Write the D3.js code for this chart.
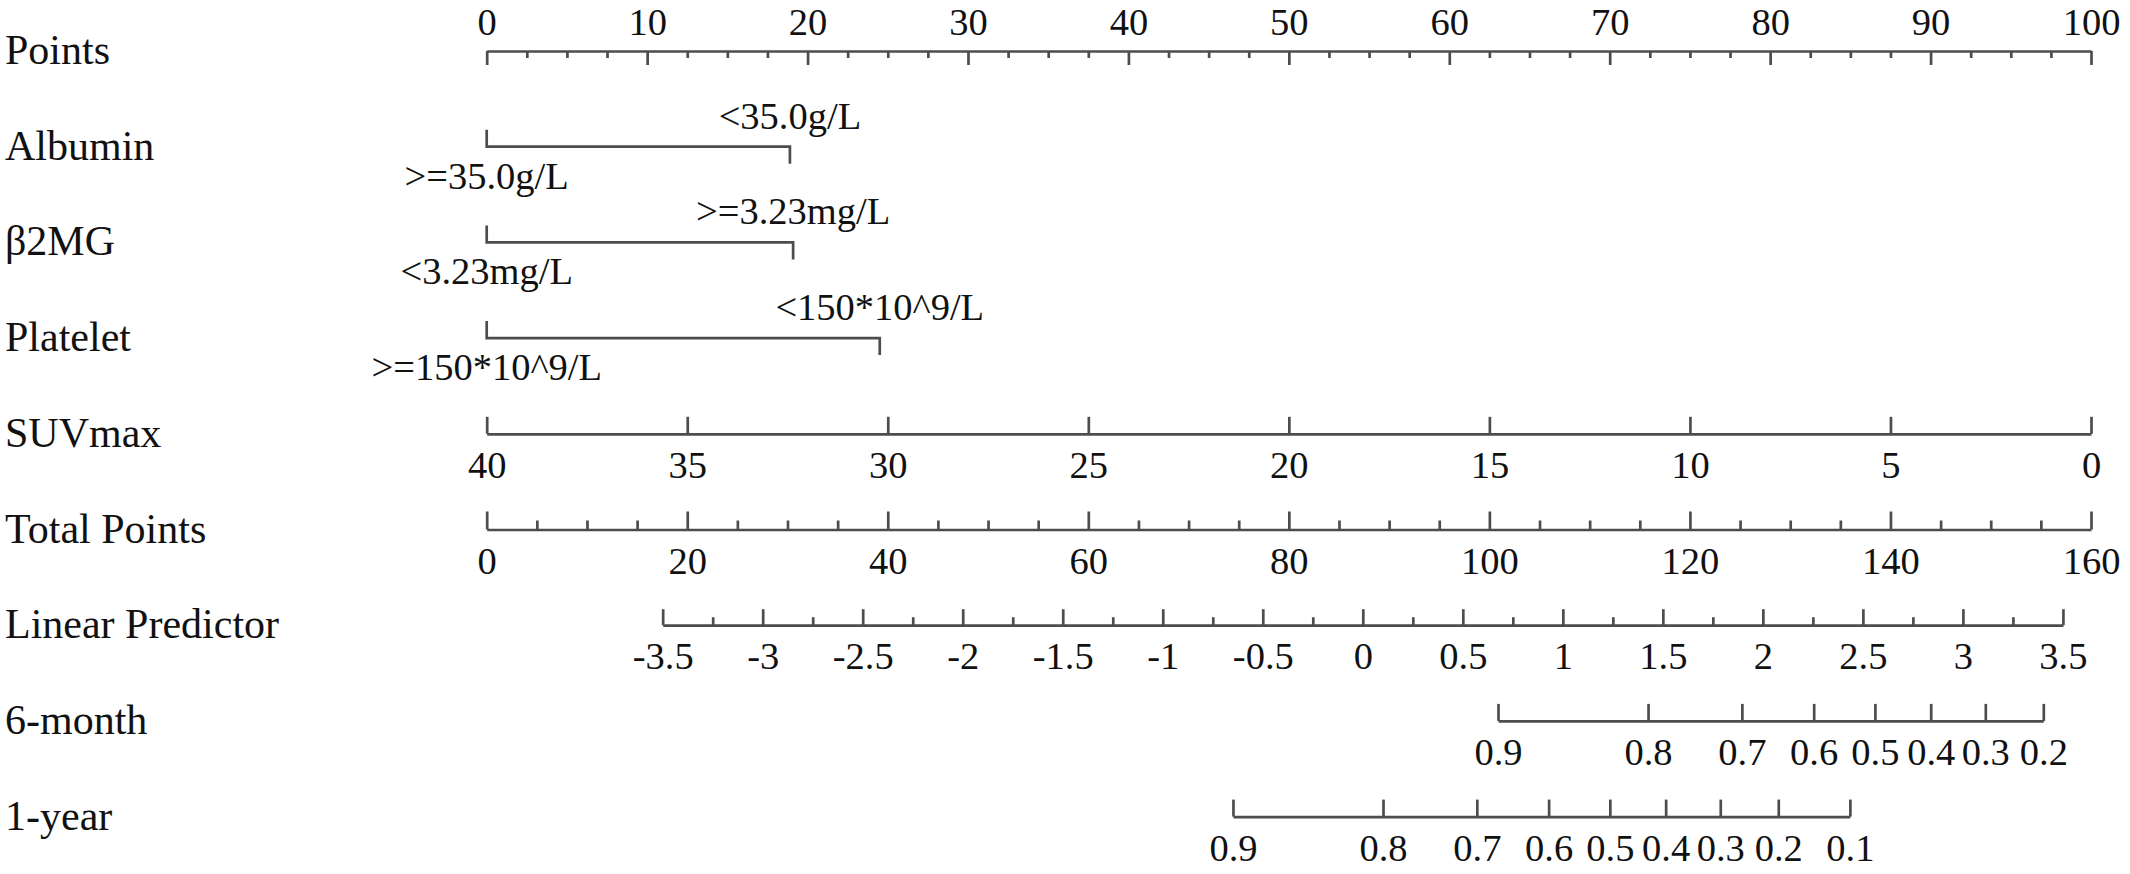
<!DOCTYPE html>
<html>
<head>
<meta charset="utf-8">
<script src="https://cdn.jsdelivr.net/npm/d3@7/dist/d3.min.js"></script>
<style>
  html, body { margin: 0; padding: 0; background: #fff; }
  svg { display: block; }
</style>
</head>
<body>
<div id="chart"></div>
<script>
// ---------------- DATA ----------------
const rowLabels = ["Points", "Albumin", "\u03b22MG", "Platelet", "SUVmax", "Total Points", "Linear Predictor", "6-month", "1-year"];

// Points scale
const pointsDomain = [0, 100];
const pointsMajor = [0, 10, 20, 30, 40, 50, 60, 70, 80, 90, 100];
const pointsMinorStep = 2.5;

// Categorical predictors: levels and their points
const albuminLevels = [">=35.0g/L", "<35.0g/L"];
const albuminPoints = [0, 18.9];
const b2mgLevels = ["<3.23mg/L", ">=3.23mg/L"];
const b2mgPoints = [0, 19.1];
const plateletLevels = [">=150*10^9/L", "<150*10^9/L"];
const plateletPoints = [0, 24.5];

// SUVmax: value 40 -> 0 points, value 0 -> 100 points
const suvTicks = [40, 35, 30, 25, 20, 15, 10, 5, 0];
const suvPointsAtEnds = [0, 100];   // points for SUVmax 40 and 0

// Total points
const totalDomain = [0, 160];
const totalMajor = [0, 20, 40, 60, 80, 100, 120, 140, 160];
const totalMinorStep = 5;

// Linear predictor
const lpTicks = [-3.5, -3, -2.5, -2, -1.5, -1, -0.5, 0, 0.5, 1, 1.5, 2, 2.5, 3, 3.5];
const lpTotalAtEnds = [17.55, 157.2];  // total points at LP -3.5 and 3.5

// Survival probabilities with their linear-predictor positions
const sixMonthProb = ["0.9", "0.8", "0.7", "0.6", "0.5", "0.4", "0.3", "0.2"];
const sixMonthLP = [0.676, 1.426, 1.895, 2.254, 2.560, 2.839, 3.112, 3.402];
const oneYearProb = ["0.9", "0.8", "0.7", "0.6", "0.5", "0.4", "0.3", "0.2", "0.1"];
const oneYearLP = [-0.649, 0.101, 0.570, 0.929, 1.235, 1.514, 1.787, 2.077, 2.435];

// ---------------- LAYOUT ----------------
const W = 2130, H = 874;
const x0 = 486.7, x1 = 2091;
const rowY0 = 51, rowStep = 95.7;
const rowY = i => rowY0 + rowStep * i;
const LINE = "#4d4d4d";
const LW = 2.7;
const FONT = "'Liberation Serif', 'Times New Roman', Times, serif";
const LABEL_FS = 42, TICK_FS = 38.5;

const svg = d3.select("#chart").append("svg")
  .attr("width", W).attr("height", H)
  .attr("viewBox", `0 0 ${W} ${H}`);

const xPts = d3.scaleLinear().domain(pointsDomain).range([x0, x1]);
const xTot = d3.scaleLinear().domain(totalDomain).range([x0, x1]);
const xSuv = d3.scaleLinear().domain([suvTicks[0], suvTicks[suvTicks.length - 1]])
  .range(suvPointsAtEnds.map(xPts));
const xLP = d3.scaleLinear().domain([lpTicks[0], lpTicks[lpTicks.length - 1]])
  .range(lpTotalAtEnds.map(xTot));

// Row labels
svg.append("g").selectAll("text").data(rowLabels).join("text")
  .attr("x", 5).attr("y", (d, i) => rowY(i) + 13)
  .attr("font-family", FONT).attr("font-size", LABEL_FS).attr("fill", "#111")
  .text(d => d);

function styleAxis(g) {
  g.attr("font-family", FONT).attr("font-size", TICK_FS);
  g.selectAll("path.domain").attr("stroke", LINE).attr("stroke-width", LW);
  g.selectAll(".tick line").attr("stroke", LINE).attr("stroke-width", LW);
  g.selectAll(".tick text").attr("fill", "#111");
}

function minorValues(domain, step, majors) {
  const out = [];
  for (let v = domain[0]; v <= domain[1] + 1e-9; v += step) {
    if (!majors.some(m => Math.abs(m - v) < 1e-9)) out.push(+v.toFixed(4));
  }
  return out;
}

// ---- Points axis (ticks down, labels above) ----
{
  const y = rowY(0);
  const g = svg.append("g").attr("transform", `translate(0,${y})`);
  g.append("g").call(d3.axisBottom(xPts).tickValues(pointsMajor).tickSize(14).tickSizeOuter(0).tickFormat(""))
    .call(styleAxis);
  g.append("g").call(d3.axisBottom(xPts).tickValues(minorValues(pointsDomain, pointsMinorStep, pointsMajor)).tickSize(7).tickFormat(""))
    .call(styleAxis).call(gg => gg.select(".domain").remove());
  g.append("g").call(d3.axisTop(xPts).tickValues(pointsMajor).tickSize(0).tickPadding(16).tickFormat(d3.format("d")))
    .call(styleAxis).call(gg => gg.select(".domain").remove());
}

// ---- Categorical predictors ----
function catRow(i, levels, pts) {
  const y = rowY(i);
  const g = svg.append("g");
  const xa = xPts(pts[0]), xb = xPts(pts[1]);
  g.append("path")
    .attr("d", d3.line()([[xa, y - 17], [xa, y], [xb, y], [xb, y + 17]]))
    .attr("fill", "none").attr("stroke", LINE).attr("stroke-width", LW);
  g.append("text").attr("x", xa).attr("y", y + 42).attr("text-anchor", "middle")
    .attr("font-family", FONT).attr("font-size", TICK_FS).attr("fill", "#111").text(levels[0]);
  g.append("text").attr("x", xb).attr("y", y - 18).attr("text-anchor", "middle")
    .attr("font-family", FONT).attr("font-size", TICK_FS).attr("fill", "#111").text(levels[1]);
}
catRow(1, albuminLevels, albuminPoints);
catRow(2, b2mgLevels, b2mgPoints);
catRow(3, plateletLevels, plateletPoints);

// Helper: axis with ticks up and labels below
function upAxis(i, scale, values, fmt, size) {
  const y = rowY(i);
  const g = svg.append("g").attr("transform", `translate(0,${y})`);
  g.append("g").call(d3.axisTop(scale).tickValues(values).tickSize(size).tickSizeOuter(0).tickFormat(fmt))
    .call(styleAxis)
    .call(gg => gg.selectAll(".tick text").attr("y", 44).attr("dy", null));
  return g;
}

// ---- SUVmax ----
upAxis(4, xSuv, suvTicks, d3.format("d"), 17);

// ---- Total Points ----
{
  const g = upAxis(5, xTot, totalMajor, d3.format("d"), 18);
  g.append("g").call(d3.axisTop(xTot).tickValues(minorValues(totalDomain, totalMinorStep, totalMajor)).tickSize(9).tickFormat(""))
    .call(styleAxis).call(gg => gg.select(".domain").remove());
}

// ---- Linear Predictor ----
{
  const g = upAxis(6, xLP, lpTicks, d => String(d), 16);
  const minors = lpTicks.slice(0, -1).map(v => v + 0.25);
  g.append("g").call(d3.axisTop(xLP).tickValues(minors).tickSize(8).tickFormat(""))
    .call(styleAxis).call(gg => gg.select(".domain").remove());
}

// ---- Survival axes (domain limited to the probability range) ----
function survScale(lps) {
  const ext = d3.extent(lps);
  return d3.scaleLinear().domain(ext).range(ext.map(xLP));
}
upAxis(7, survScale(sixMonthLP), sixMonthLP, (d, k) => sixMonthProb[k], 17);
upAxis(8, survScale(oneYearLP), oneYearLP, (d, k) => oneYearProb[k], 17);
</script>
</body>
</html>
